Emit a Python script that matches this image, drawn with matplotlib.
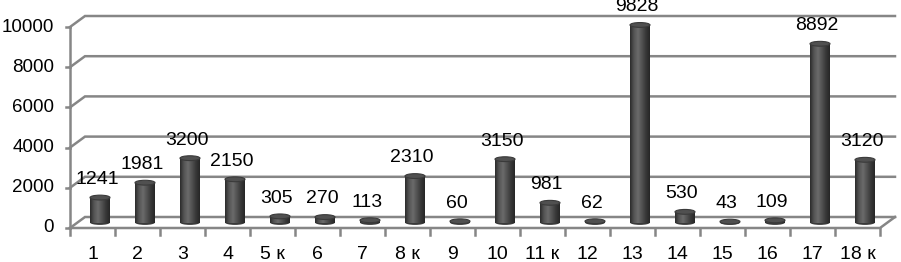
import numpy as np
import matplotlib.pyplot as plt
from matplotlib.colors import LinearSegmentedColormap
from matplotlib.patches import Ellipse, Rectangle

# Data
categories = ["1", "2", "3", "4", "5 к", "6", "7", "8 к", "9", "10",
              "11 к", "12", "13", "14", "15", "16", "17", "18 к"]
values = [1241, 1981, 3200, 2150, 305, 270, 113, 2310, 60, 3150,
          981, 62, 9828, 530, 43, 109, 8892, 3120]
y_ticks = [0, 2000, 4000, 6000, 8000, 10000]

plt.rcParams['font.family'] = ['Liberation Sans', 'DejaVu Sans']
fs = 14

fig = plt.figure(figsize=(9.01, 2.62), dpi=100)
ax = fig.add_axes([0, 0, 1, 1])
ax.axis('off')

n = len(categories)
dx = 0.333    # depth offset in category units
dy = 547      # depth offset in value units
grid_c = '#868686'
lw = 1.8

# Back wall gridlines + left wall diagonals + left axis ticks
for v in y_ticks:
    ax.plot([-0.5, -0.5 + dx, n - 0.5 + dx], [v, v + dy, v + dy],
            color=grid_c, lw=lw, solid_joinstyle='miter')
    ax.plot([-0.6, -0.5], [v, v], color=grid_c, lw=lw)
    ax.text(-0.85, v, str(v), ha='right', va='center', fontsize=13.5)

# Left axis
ax.plot([-0.5, -0.5], [0, y_ticks[-1]], color=grid_c, lw=lw)

# Floor front edge and right edge
ax.plot([-0.5, n - 0.5, n - 0.5 + dx], [0, 0, dy], color=grid_c, lw=lw)
for i in range(n + 1):
    ax.plot([i - 0.5, i - 0.5], [0, -350], color=grid_c, lw=lw, clip_on=False)

# Category labels
for i, c in enumerate(categories):
    ax.text(i, -1320, c, ha='center', va='center', fontsize=fs)

# Cylinders
cmap = LinearSegmentedColormap.from_list(
    'cyl', ['#2c2c2c', '#555555', '#6a6a6a', '#525252', '#383838', '#262626'])
grad = np.linspace(0, 1, 64).reshape(1, -1)
w = 0.444
base = dy / 2
eh = 240   # ellipse height in value units

for i, v in enumerate(values):
    xc = i + dx / 2
    # bottom cap
    ax.add_patch(Ellipse((xc, base), w, eh, facecolor='#3a3a3a',
                         edgecolor='none', zorder=3))
    # body with shading
    body = Rectangle((xc - w / 2, base), w, v, facecolor='none',
                     edgecolor='none')
    ax.add_patch(body)
    im = ax.imshow(grad, cmap=cmap, aspect='auto', zorder=4,
                   extent=[xc - w / 2, xc + w / 2, base, base + v])
    im.set_clip_path(body)
    # top cap
    ax.add_patch(Ellipse((xc, base + v), w, eh, facecolor='#505050',
                         edgecolor='#3a3a3a', lw=0.8, zorder=5))
    # value label
    ax.text(xc - 0.07, base + v + 900, str(v), ha='center', va='center',
            fontsize=fs, zorder=6)

ax.set_xlim(-0.5 - 70 / 45, -0.5 + 831 / 45)
ax.set_ylim(-34 / 0.0201, 228 / 0.0201)
ax.set_aspect('auto')

plt.savefig('out.png', dpi=100)
